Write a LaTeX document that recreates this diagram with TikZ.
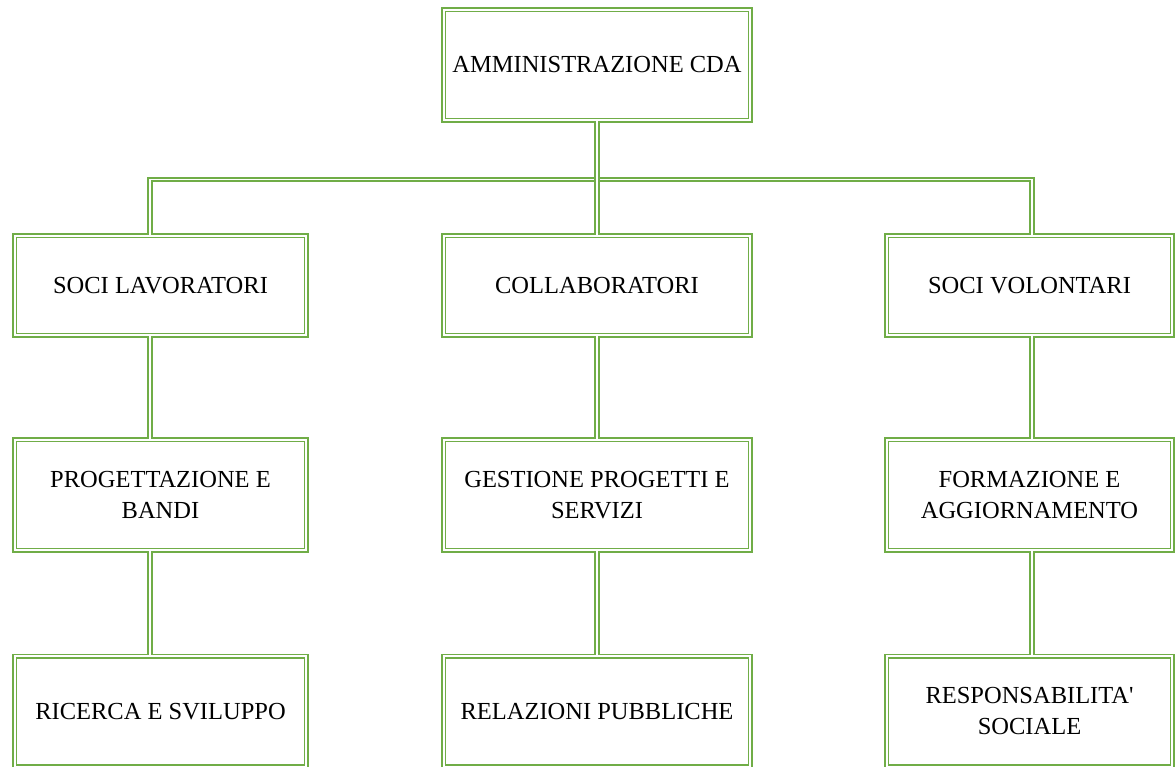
\documentclass[tikz,border=0pt]{standalone}
\usepackage{fontspec}
\setmainfont{Liberation Serif}
\definecolor{boxgreen}{HTML}{70AD47}
\tikzset{
  dbl/.style={draw=boxgreen, line width=1.7pt, double=white, double distance=1.9pt},
  orgbox/.style={dbl, fill=white, inner sep=0pt, align=center,
    font=\fontsize{24.5}{31}\selectfont},
}
\begin{document}
\begin{tikzpicture}[x=1pt,y=-1pt]
\useasboundingbox (0,0) rectangle (1175,767);
\coordinate (xL) at (150,0);
\coordinate (xM) at (597,0);
\coordinate (xR) at (1032,0);
\coordinate (hy) at (0,179.5);
% boxes
\node[orgbox, minimum width=306.7pt, minimum height=110.7pt] (top) at (597,65) {AMMINISTRAZIONE CDA};
\node[orgbox, minimum width=291.7pt, minimum height=99.7pt] (sl) at (160.5,285.5) {SOCI LAVORATORI};
\node[orgbox, minimum width=306.7pt, minimum height=99.7pt] (co) at (597,285.5) {COLLABORATORI};
\node[orgbox, minimum width=285.7pt, minimum height=99.7pt] (sv) at (1029.5,285.5) {SOCI VOLONTARI};
\node[orgbox, minimum width=291.7pt, minimum height=110.7pt] (pb) at (160.5,495) {PROGETTAZIONE E\\BANDI};
\node[orgbox, minimum width=306.7pt, minimum height=110.7pt] (gp) at (597,495) {GESTIONE PROGETTI E\\SERVIZI};
\node[orgbox, minimum width=285.7pt, minimum height=110.7pt] (fa) at (1029.5,495) {FORMAZIONE E\\AGGIORNAMENTO};
\node[orgbox, minimum width=291.7pt, minimum height=110.7pt] (rs) at (160.5,711.5) {RICERCA E SVILUPPO};
\node[orgbox, minimum width=306.7pt, minimum height=110.7pt] (rp) at (597,711.5) {RELAZIONI PUBBLICHE};
\node[orgbox, minimum width=285.7pt, minimum height=110.7pt] (rsoc) at (1029.5,711.5) {RESPONSABILITA\textquotesingle\\SOCIALE};
% connectors
\draw[dbl] (sl.north -| xL) -- (hy -| xL) -- (hy -| xR) -- (sv.north -| xR);
\draw[dbl] (top.south) -- (co.north);
\draw[dbl] (sl.south -| xL) -- (pb.north -| xL);
\draw[dbl] (pb.south -| xL) -- (rs.north -| xL);
\draw[dbl] (co.south -| xM) -- (gp.north -| xM);
\draw[dbl] (gp.south -| xM) -- (rp.north -| xM);
\draw[dbl] (sv.south -| xR) -- (fa.north -| xR);
\draw[dbl] (fa.south -| xR) -- (rsoc.north -| xR);
\end{tikzpicture}
\end{document}
